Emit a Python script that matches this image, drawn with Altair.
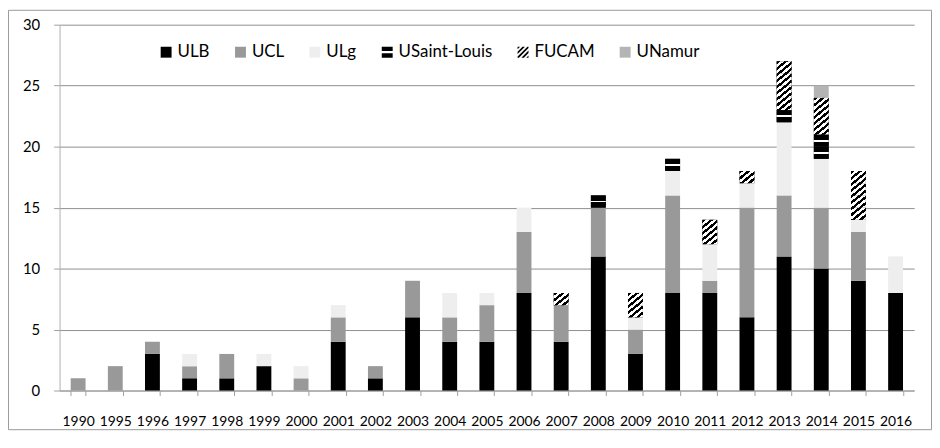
import altair as alt
import pandas as pd

years = ["1990", "1995", "1996", "1997", "1998", "1999", "2000", "2001", "2002",
         "2003", "2004", "2005", "2006", "2007", "2008", "2009", "2010", "2011",
         "2012", "2013", "2014", "2015", "2016"]

ULB = [0, 0, 3, 1, 1, 2, 0, 4, 1, 6, 4, 4, 8, 4, 11, 3, 8, 8, 6, 11, 10, 9, 8]
UCL = [1, 2, 1, 1, 2, 0, 1, 2, 1, 3, 2, 3, 5, 3, 4, 2, 8, 1, 9, 5, 5, 4, 0]
ULg = [0, 0, 0, 1, 0, 1, 1, 1, 0, 0, 2, 1, 2, 0, 0, 1, 2, 3, 2, 6, 4, 1, 3]
USL = [0, 0, 0, 0, 0, 0, 0, 0, 0, 0, 0, 0, 0, 0, 1, 0, 1, 0, 0, 1, 2, 0, 0]
FUCAM = [0, 0, 0, 0, 0, 0, 0, 0, 0, 0, 0, 0, 0, 1, 0, 2, 0, 2, 1, 4, 3, 4, 0]
UNamur = [0, 0, 0, 0, 0, 0, 0, 0, 0, 0, 0, 0, 0, 0, 0, 0, 0, 0, 0, 0, 1, 0, 0]

order = ["ULB", "UCL", "ULg", "USaint-Louis", "FUCAM", "UNamur"]
colors = ["#000000", "#999999", "#eeeeee", "#000000", "#000000", "#b4b4b4"]
series = dict(zip(order, [ULB, UCL, ULg, USL, FUCAM, UNamur]))
patterned = ["USaint-Louis", "FUCAM"]

rows = []
for i, yr in enumerate(years):
    for k, u in enumerate(order):
        n = series[u][i]
        if n == 0:
            continue
        if u in patterned:
            for j in range(n):
                rows.append({"year": yr, "univ": u, "n": 1, "k": k * 100 + j})
        else:
            rows.append({"year": yr, "univ": u, "n": n, "k": k * 100})
df = pd.DataFrame(rows)

W, H = 862, 369
FONT = "Lato"

# ---- pattern fills for the bars (gradients with hard stops) ----
usl_stops = [("#000000", 0), ("#000000", 0.42), ("#ffffff", 0.42), ("#ffffff", 0.58),
             ("#000000", 0.58), ("#000000", 1)]
fu_stops = []
N = 4
for s in range(N):
    a = s / N
    b = (s + 0.5) / N
    c = (s + 1) / N
    fu_stops += [("#000000", a), ("#000000", b), ("#ffffff", b), ("#ffffff", c)]

usl_grad = alt.LinearGradient(gradient="linear", x1=0, y1=0, x2=0, y2=1,
                              stops=[alt.GradientStop(color=c, offset=o) for c, o in usl_stops])
fu_grad = alt.LinearGradient(gradient="linear", x1=0, y1=0, x2=1, y2=1,
                             stops=[alt.GradientStop(color=c, offset=o) for c, o in fu_stops])


# ---- legend symbol shapes (custom paths in [-1, 1]) ----
def clip_band(c1, c2):
    poly = [(-1, -1), (1, -1), (1, 1), (-1, 1)]

    def clip(pts, f):
        out = []
        for i in range(len(pts)):
            p, q = pts[i], pts[(i + 1) % len(pts)]
            fp, fq = f(p), f(q)
            if fp >= 0:
                out.append(p)
            if (fp >= 0) != (fq >= 0):
                t = fp / (fp - fq)
                out.append((p[0] + t * (q[0] - p[0]), p[1] + t * (q[1] - p[1])))
        return out

    poly = clip(poly, lambda p: p[0] + p[1] - c1)
    if poly:
        poly = clip(poly, lambda p: c2 - (p[0] + p[1]))
    return poly


square_path = "M-1,-1H1V1H-1Z"
usl_path = "M-1,-1H1V-0.2H-1Z M-1,0.2H1V1H-1Z"
fu_parts = []
c = -2.0
while c < 2.0:
    pts = clip_band(c, c + 0.45)
    if len(pts) >= 3:
        fu_parts.append("M" + "L".join("%.3f,%.3f" % p for p in pts) + "Z")
    c += 0.9
fu_path = " ".join(fu_parts)
shapes = [square_path, square_path, square_path, usl_path, fu_path, square_path]

legend = alt.Legend(title=None, orient="none", legendX=99, legendY=19,
                    direction="horizontal", symbolSize=121, symbolStrokeWidth=0,
                    symbolOpacity=1, labelFontSize=17, labelFont=FONT, labelColor="#000000",
                    columnPadding=22, labelOffset=3, padding=0)

color_scale = alt.Scale(domain=order, range=colors)

base = alt.Chart(df).transform_stack(
    stack="n", groupby=["year"], as_=["y0", "y1"],
    sort=[alt.SortField("k", order="ascending")]
)

xscale = alt.Scale(paddingInner=0.6, paddingOuter=0.3)
yscale = alt.Scale(domain=[0, 30], nice=False)

x_axis = alt.Axis(labelAngle=0, tickBand="extent", tickSize=5, tickColor="#a0a0a0",
                  domainColor="#a0a0a0", labelPadding=19, labelFontSize=14,
                  labelFont=FONT, labelColor="#000000", grid=False)
y_axis = alt.Axis(values=[0, 5, 10, 15, 20, 25, 30], tickSize=6, tickColor="#a0a0a0",
                  domainColor="#b0b0b0", gridColor="#8f8f8f", grid=True,
                  labelPadding=14, labelFontSize=15, labelFont=FONT, labelColor="#000000")

x_enc = alt.X("year:N", sort=years, scale=xscale, title=None, axis=x_axis)
y_enc = alt.Y("y0:Q", scale=yscale, title=None, axis=y_axis)

bars = base.mark_bar().encode(
    x=x_enc,
    y=y_enc,
    y2="y1:Q",
    color=alt.Color("univ:N", scale=color_scale, legend=legend, sort=order),
)

usl = base.transform_filter(alt.datum.univ == "USaint-Louis").mark_bar(fill=usl_grad).encode(
    x=x_enc, y=y_enc, y2="y1:Q")
fu = base.transform_filter(alt.datum.univ == "FUCAM").mark_bar(fill=fu_grad).encode(
    x=x_enc, y=y_enc, y2="y1:Q")

# invisible layer: merges a shape scale into the same legend (patterned symbols)
legend_layer = base.mark_point(filled=True, opacity=0).encode(
    x=x_enc, y=y_enc,
    color=alt.Color("univ:N", scale=color_scale, legend=legend, sort=order),
    shape=alt.Shape("univ:N", scale=alt.Scale(domain=order, range=shapes), legend=legend,
                    sort=order),
)

frame = alt.Chart(pd.DataFrame({"f": [0]})).mark_rect(
    filled=False, stroke="#9a9a9a", strokeWidth=1).encode(
    x=alt.value(-51.5), x2=alt.value(W + 17.5), y=alt.value(-14.5), y2=alt.value(H + 39.5))

chart = alt.layer(bars, usl, fu, legend_layer, frame).properties(
    width=W, height=H,
    autosize=alt.AutoSizeParams(type="none"),
    padding={"left": 52, "top": 15, "right": 18, "bottom": 40},
).configure_view(stroke="transparent")

chart.save("out.html", embed_options={"renderer": "svg", "actions": False})
